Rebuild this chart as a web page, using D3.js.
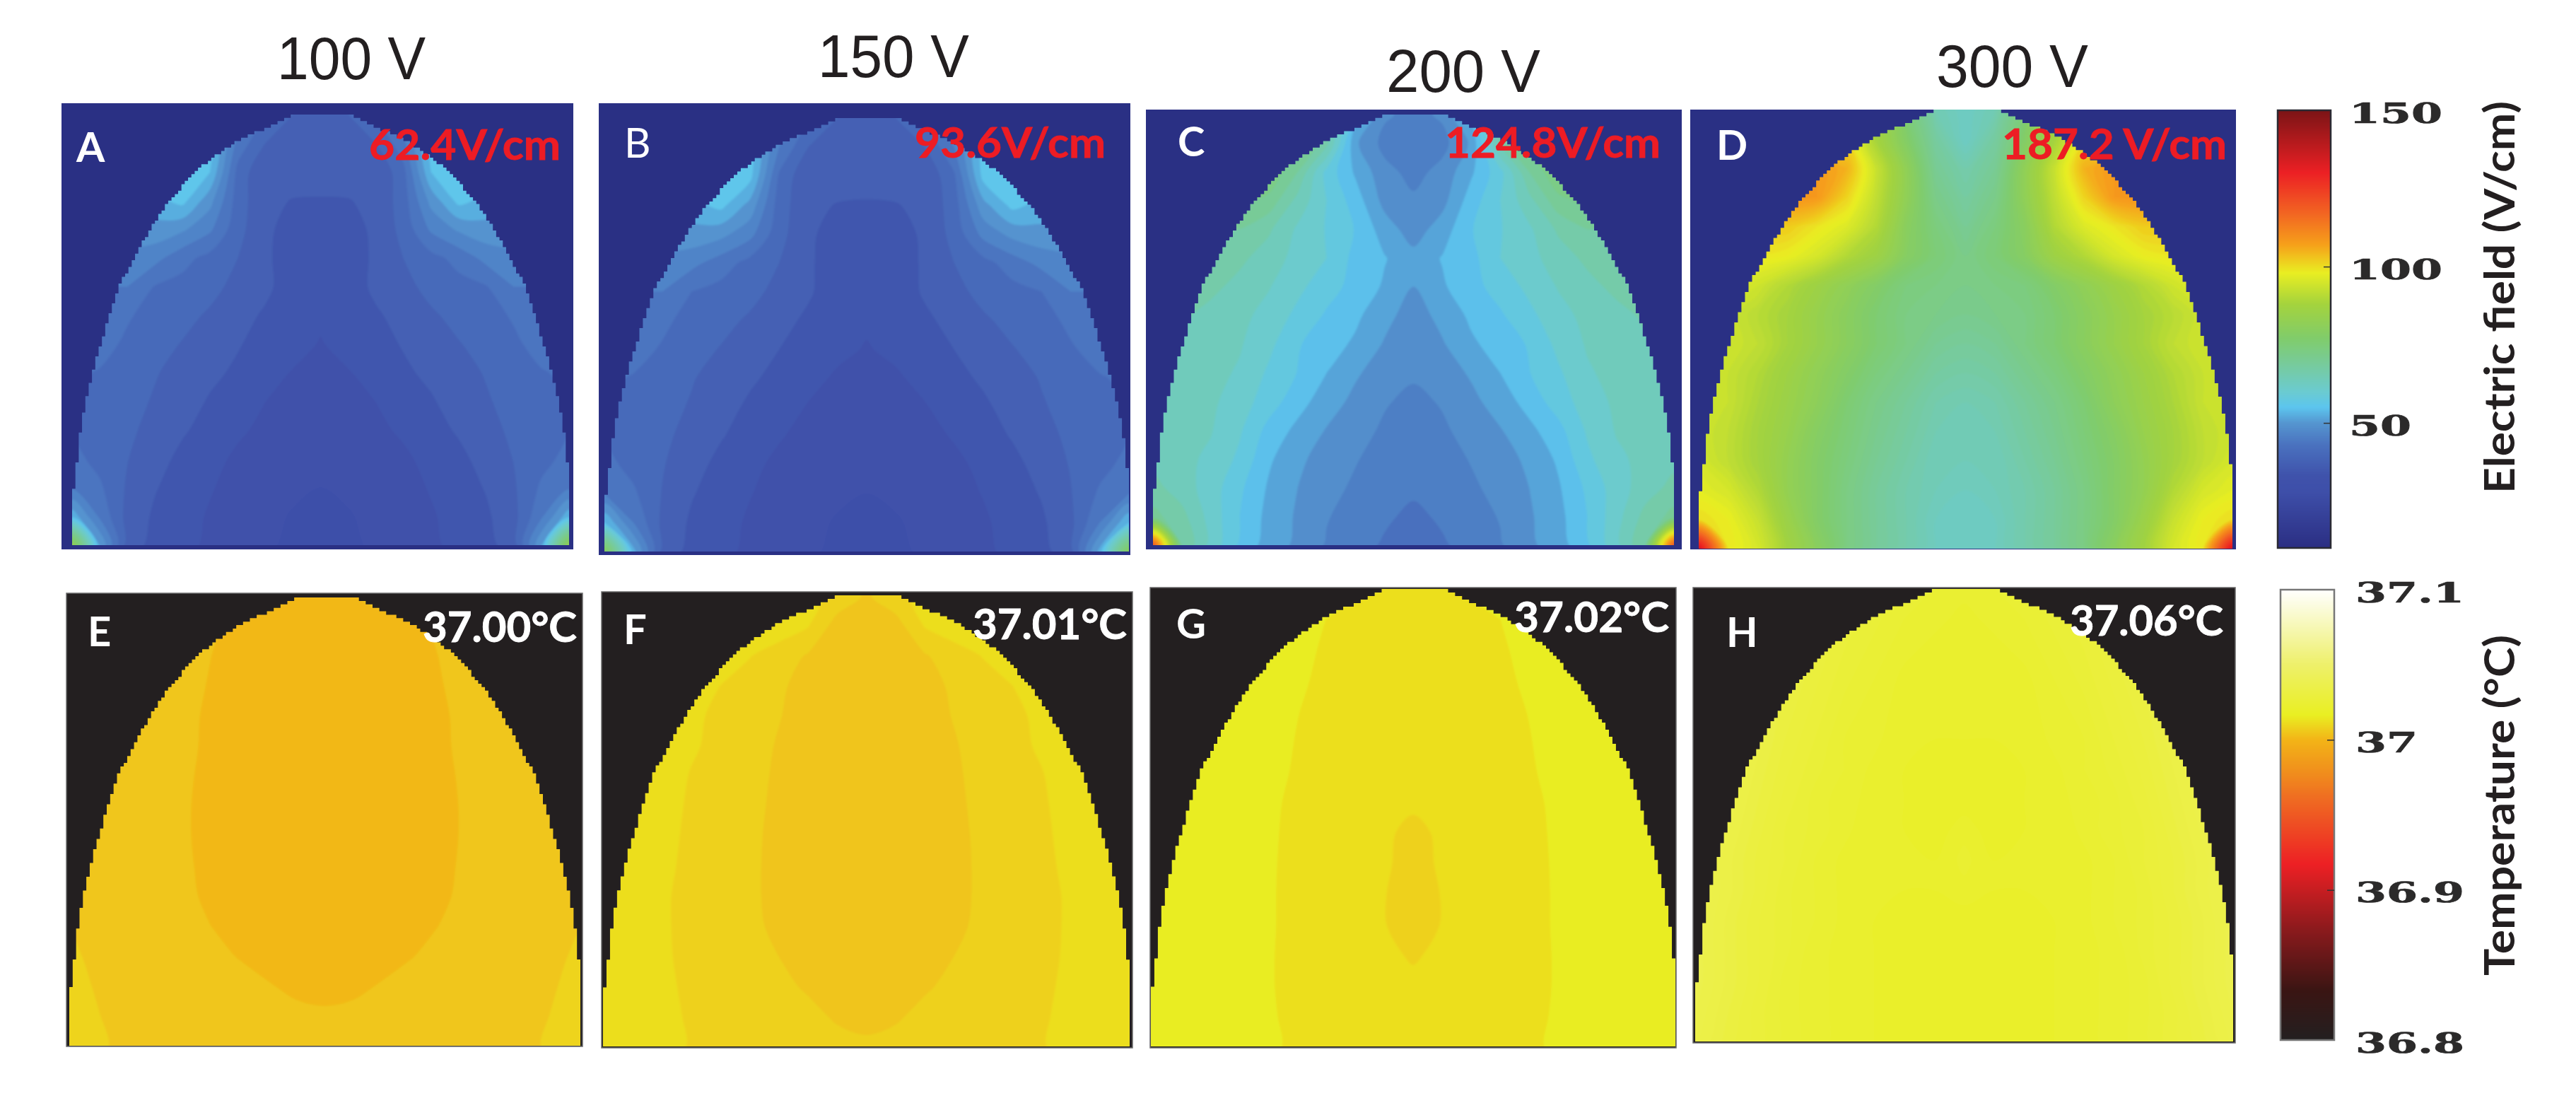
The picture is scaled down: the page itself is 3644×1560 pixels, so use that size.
<!DOCTYPE html>
<html>
<head>
<meta charset="utf-8">
<style>
  html, body { margin: 0; background: #fff; }
  svg { display: block; }
</style>
</head>
<body>
<svg></svg>
<script src="https://cdn.jsdelivr.net/npm/d3@7"></script>
<script>
let width = 3644, height = 1560;

// Values, one row per height from dome top to base.
// Each row goes from the left edge to the mid line, the right half mirrors it.
// Electric field in V/cm.
const fieldA = [
  [58,58,58,58,58,54,50,44,41,40],
  [58,58,58,58,58,57,46,41,40,40],
  [58,58,58,58,58,56,43,38.2,39,39.2],
  [54,54,54,55,57,51,42.5,38.5,37.9,37.8],
  [52,52,52,52,50.5,47.5,42,38.5,37,37],
  [49,49,49,48,45,43,41,38.5,36.5,36.5],
  [47,47,47,43.8,43,42,40,38.6,36.5,36],
  [46,45.5,44.3,43,42,40.5,39,37.6,36,35.5],
  [45.5,45,43.5,42.2,40.8,40,38.2,37,36,34.8],
  [44.5,43.8,42.5,41.2,40,38.6,37.5,36,34.8,34.2],
  [44,43,42,40.7,39.2,37.7,36.5,35,34.2,33.8],
  [44,42.6,41.6,40,38.3,37,35.4,34.4,33.8,33.4],
  [45,43,41.1,39,37.3,35.8,34.5,33.8,33.3,32.8],
  [46.5,44.5,40.6,38.2,36.6,35.2,34,33.2,32.5,32],
  [55,46.5,40,37.5,36,34.7,33.6,32.7,31.8,31.5],
  [85,53,39.5,37,35.7,34.5,33.4,32.4,31.5,31.3]
];
const fieldB = [
  [58,58,58,58,58,54,50,44,41,40],
  [58,58,58,58,58,57,47,41,40,39.5],
  [58,58,58,58,58,57,43.5,38.4,39,39.2],
  [55,55,55,55,57,52,42.5,38.5,37.9,37.7],
  [52,52,52,52,51,48,42,38.5,36.8,36.6],
  [49,49,49,48,45.5,43,41,38.5,36.2,36.2],
  [47,47,47,44,43,42,40,38.4,36.2,35.8],
  [46,45.5,44.6,43,42,40.5,39,37.4,35.8,35.4],
  [45.5,45,43.7,42.2,40.8,39.8,38,36.8,35.6,34.8],
  [44.5,43.8,42.5,41.2,39.8,38.4,37.2,35.8,34.6,34.2],
  [44,43,42,40.7,39,37.5,36.2,34.8,34,33.7],
  [44,42.6,41.6,40,38.2,36.8,35.2,34.2,33.6,33.3],
  [45,43,41.2,39,37.2,35.6,34.4,33.6,33.2,32.8],
  [47,44.5,40.8,38.2,36.6,35.1,34,33.1,32.4,32],
  [56,47,40.2,37.5,36,34.6,33.5,32.6,31.8,31.5],
  [82,54,39.8,37,35.7,34.4,33.3,32.4,31.5,31.3]
];
const fieldC = [
  [72,72,72,72,72,72,64,54,47.5,46],
  [72,72,72,72,72,72,66,50.5,46,45],
  [74,74,74,74,74,68,58,52.5,48,46],
  [72,72,72,72,70,64,59,54.5,49,47.5],
  [68,68,68,68,65.5,61.5,58.8,55.8,51.5,48.5],
  [66,66,66,65.7,63.5,61,59,55,53.2,51],
  [65.5,65.5,65.8,64,62.2,59.8,57.2,55,52.6,50],
  [65.5,65.5,64,62.8,61,58.2,55.6,53.6,51,48.5],
  [65,64.5,63.3,62.3,59.8,56.3,54.3,52.5,49.7,48],
  [65,64,63,61.6,58.5,55.9,53,50.4,48.5,47.5],
  [65,63.5,62.6,60.4,57.5,54.2,51.4,49.2,47.3,46.2],
  [65,63,62.2,59.4,55,52.2,49.8,48.2,46.5,45.5],
  [64,62.8,61.4,58.3,53.5,50.6,48.8,47.2,45.8,45],
  [66,63.5,60.5,56.6,52.6,50,48,46.5,45,44.6],
  [69,66,60.8,56,52,49.6,47.2,45.8,44.5,43.3],
  [120,68,61,55.5,51.5,49.4,46.7,45.2,43.6,43]
];
const fieldD = [
  [98,98,98,98,98,98,88,75,65,62],
  [100,100,100,100,100,100,88,78,68,62],
  [108,108,108,108,108,105,93,82,70,66],
  [109,109,109,109,108,101,92,82,72,68],
  [102,102,102,102,99,96,90,80,74,70],
  [99,99,99,98,95,90,86,79,75,72],
  [97,97,94,90,86,82,78,74,73,72],
  [95,94,91,88,84,80,76,73,72,71],
  [95,94,92,88,84,80,76,73,70,69],
  [94,93,90,86,82,78,74,71,68,67],
  [94,93,89,85,81,76,72,69,66,65],
  [94,92,88,84,79,75,71,68,65,64],
  [95,92,88,83,78,74,70,67,64,64],
  [97,95,90,83,78,73,69,66,64,63],
  [100,98,93,85,78,73,69,66,63,62],
  [135,99,95,87,80,73,69,66,63,62]
];

// Temperature, in thousandths of a degree above 37 C.
const tempE = [
  [5,5,5,5,5,5,5,4.5,2.5,2],
  [5,5,5,5,5,4,1.5,1,1,1],
  [5,5,5,5,5,3,1,1,1,1],
  [5,5,5,5,5,2.5,1,1,1,1],
  [5,5,5,5,4.5,2,1,1,1,1],
  [5,5,5,5,4.2,2,1,1,1,1],
  [5,5,5,5,3.8,1.8,1,1,1,1],
  [5,5,5,5,3.6,1.6,1,1,1,1],
  [5,5,5,5,3.6,1.6,1,1,1,1],
  [5,5,5,5,3.8,1.8,1,1,1,1],
  [6,5,5,5,4.2,2,1,1,1,1],
  [6.8,5.4,5,5,5,3,1,1,1,1],
  [7.8,6,5,5,5,4.5,2.7,1,1,1],
  [8.5,6.6,5,5,5,5,5,3.4,1.8,1.4],
  [9,7.2,5.2,5,5,5,5,5,4.4,3.8],
  [9,7.8,5.8,5,5,5,5,5,5,5]
];
const tempF = [
  [12.5,12.5,12,12,12,12,12,11,9,6],
  [12.5,12.5,12,12,12,12,12,10.3,5,5],
  [12.5,12.5,12,12,12,10.2,8.4,6.2,5,5],
  [12.5,12.5,12,12,10,8.5,7.2,5,5,5],
  [12.5,12.5,12,11,9,8.5,6.7,5,5,5],
  [12.5,12.5,12,10.5,9,8,6.2,5,5,5],
  [12.5,12.5,12,9.8,8.8,8,5.8,5,5,5],
  [12.5,12.5,11.5,9.5,8.7,7.8,5.5,5,5,5],
  [12.5,12.5,11,9.4,8.5,7.5,5.3,5,5,5],
  [12.5,12.5,10.8,9.2,8.5,7.4,5.2,5,5,5],
  [12.5,12.5,10.5,9,8.5,7.4,5.2,5,5,5],
  [12.5,12.5,10.5,9,8.5,7.6,5.5,5,5,5],
  [12.5,12.5,10.5,9.2,8.6,8,6.5,5,5,5],
  [12.5,12.5,10.8,9.3,8.8,8.2,7.5,6,5,5],
  [12.5,12.5,11.2,9.5,9,8.5,8,7.6,6,5],
  [12.5,12.5,11.5,9.7,9.2,8.8,8.5,8,7.8,7.4]
];
const tempG = [
  [16,16,16,16,16,16,16,15,13,12],
  [16,16,16,16,16,16,14,12,12,12],
  [16,16,16,16,16,15.4,13.4,12,12,12],
  [16,16,16,16,16,14.8,13,12,12,12],
  [16,16,16,16,16,14.2,12.5,12,12,12],
  [16,16,16,16,16,13.8,12,12,12,12],
  [16,16,16,16,15.5,13.5,12,12,12,12],
  [16,16,16,16,15,13,12,12,12,11],
  [16,16,16,16,14.8,12.8,12,12,11,8.5],
  [16,16,16,16,14.7,12.6,12,12,10.8,8],
  [16,16,16,16,14.6,12.6,12,12,10.2,8],
  [16,16,16,16,14.6,12.6,12,12,10.2,8],
  [16,16,16,16,14.5,12.5,12,12,11,9.5],
  [16,16,16,16,14.5,12.5,12,12,12,11],
  [16,16,16,16,14.7,12.7,12,12,12,12],
  [16,16,16,16,15,13,12,12,12,12]
];
const tempH = [
  [30,30,30,30,30,30,27,25,24,23],
  [30,30,30,30,30,28,26,24,23,22],
  [31,31,31,31,30,27,25,23,22,22],
  [33,33,33,32,29,26,24,22,21,21],
  [34,34,34,31,28,25,23,22,21,21],
  [35,35,34,30,27,24,23,21,21,21],
  [36,36,33,29,26,24,22,21,20,20],
  [37,36,32,28,25,23,22,21,20,20],
  [37,35,31,27,25,23,21,21,20,22],
  [37,34,30,27,24,22,21,21,21,23],
  [37,34,30,26,24,22,21,21,21,22],
  [37,33,29,26,24,22,21,20,20,20],
  [37,33,29,26,23,22,21,20,20,20],
  [37,33,29,25,23,22,21,20,20,20],
  [36,32,28,25,23,22,21,20,20,20],
  [35,31,28,25,23,22,21,20,20,20]
];

// Outline of the dome: width from the mid line against drop from the top, both 0 to 1.
const domeWidth = [0, 0.12, 0.23, 0.357, 0.51, 0.644, 0.738, 0.816, 0.865, 0.915, 0.951, 0.972, 0.99, 1];
const domeDrop = [0, 0, 0.032, 0.067, 0.13, 0.222, 0.313, 0.398, 0.482, 0.581, 0.665, 0.736, 0.82, 0.87];

const voltageLabels = ["100 V", "150 V", "200 V", "300 V"];
const fieldTicks = [50, 100, 150];
const tempTicks = [36.8, 36.9, 37, 37.1];

// Colour bars, value then colour.
const fieldStops = [10, 28, 33, 43, 50, 55, 60, 68, 77, 88, 98, 107, 117, 130, 150];
const fieldColors = ["#2b2e83", "#3e4fa9", "#3f52ab", "#4a72bf", "#5596d0", "#5cc5ee", "#6bcbd0", "#76cba0", "#80cc6b", "#a4d33d", "#e9ee22", "#f6a01a", "#f26522", "#ec2024", "#7b1416"];
const tempStops = [36.8, 36.833, 36.875, 36.917, 36.96, 36.976, 37, 37.0165, 37.05, 37.1];
const tempColors = ["#231f20", "#3a1513", "#8e1a1d", "#ed2024", "#ef6a22", "#f08a1d", "#f3b417", "#e9ef22", "#eef06a", "#ffffff"];

let fieldColor = d3.scaleLinear().domain(fieldStops).range(fieldColors);
let tempColor = d3.scaleLinear().domain(tempStops).range(tempColors);

let svg = d3.select("svg")
  .attr("width", width)
  .attr("height", height)
  .attr("viewBox", "0 0 " + width + " " + height);

svg.append("defs").append("filter")
  .attr("id", "soft")
  .append("feGaussianBlur")
  .attr("stdDeviation", 1.6);

const sans = "Lato, 'Open Sans', sans-serif";

let panels = [
  { id: "A", grid: fieldA, kind: "field", step: 3, start: 11, shift: -2, frame: [87, 146, 811, 777], dome: [102, 162, 805, 771], bg: "#2a3084" },
  { id: "B", grid: fieldB, kind: "field", step: 3, start: 11, shift: -2, frame: [847, 146, 1599, 785], dome: [855, 167, 1597, 780], bg: "#2a3084" },
  { id: "C", grid: fieldC, kind: "field", step: 3, start: 11, shift: 0, frame: [1621, 155, 2379, 777], dome: [1631, 162, 2368, 771], bg: "#2a3084" },
  { id: "D", grid: fieldD, kind: "field", step: 1, start: 12, shift: 0, frame: [2391, 155, 3163, 777], dome: [2403, 155, 3158, 776], bg: "#2a3084" },
  { id: "E", grid: tempE, kind: "temp", step: 4, start: -1, shift: 0, frame: [94, 839, 824, 1480], dome: [98, 845, 821, 1479], bg: "#231f20" },
  { id: "F", grid: tempF, kind: "temp", step: 3.5, start: -0.5, shift: 0, frame: [851, 837, 1602, 1482], dome: [853, 842, 1598, 1480], bg: "#231f20" },
  { id: "G", grid: tempG, kind: "temp", step: 4, start: 2, shift: 0, frame: [1627, 831, 2371, 1482], dome: [1628, 833, 2370, 1480], bg: "#231f20" },
  { id: "H", grid: tempH, kind: "temp", step: 1.5, start: 15, shift: 0, frame: [2395, 831, 3162, 1475], dome: [2398, 833, 3159, 1473], bg: "#231f20" }
];

// Stepped outline, the source picture is a pixel grid of about 150 columns.
let dropOf = d3.scaleLinear().domain(domeWidth).range(domeDrop);
let domeCols = 150, domeRows = 130;

function domePath(dome) {
  let x = d3.scaleLinear().domain([0, domeCols]).range([dome[0], dome[2]]);
  let y = d3.scaleLinear().domain([0, 1]).range([dome[1], dome[3]]);
  let pts = d3.range(domeCols + 1).map(i => {
    let w = Math.abs(2 * i / domeCols - 1);
    return [x(i), y(Math.round(dropOf(w) * domeRows) / domeRows)];
  });
  return d3.line().curve(d3.curveStepAfter)(pts)
    + "L" + dome[2] + "," + dome[3] + "L" + dome[0] + "," + dome[3] + "Z";
}

panels.forEach(p => {
  let g = svg.append("g").attr("id", "panel" + p.id);
  let [x0, y0, x1, y1] = p.frame;

  g.append("rect")
    .attr("x", x0).attr("y", y0)
    .attr("width", x1 - x0).attr("height", y1 - y0)
    .attr("fill", p.bg)
    .attr("stroke", p.kind == "temp" ? "#6a6a6a" : "none")
    .attr("stroke-width", 1.5);

  g.append("clipPath").attr("id", "clip" + p.id)
    .append("path").attr("d", domePath(p.dome));

  // mirror the half rows into full rows
  let full = p.grid.map(r => r.concat(r.slice(0, -1).reverse()));
  let nx = full[0].length, ny = full.length;
  let values = full.flat();

  let xs = d3.scaleLinear().domain([0.5, nx - 0.5]).range([p.dome[0], p.dome[2]]);
  let ys = d3.scaleLinear().domain([0.5, ny - 0.5]).range([p.dome[1], p.dome[3]]);
  // rounded contour rings so the coarse grid does not show as corners
  let ringLine = d3.line().curve(d3.curveCatmullRomClosed.alpha(0.5));
  let bandPath = d => d.coordinates
    .map(poly => poly.map(ring => ringLine(ring.slice(0, -1).map(c => [xs(c[0]), ys(c[1])]))).join(""))
    .join("");

  let colorOf = p.kind == "field" ? fieldColor : (v => tempColor(37 + v / 1000));
  let levels = d3.range(p.start, d3.max(values) + p.step, p.step);
  let bands = d3.contours().size([nx, ny]).thresholds(levels)(values);

  let field = g.append("g").attr("clip-path", "url(#clip" + p.id + ")")
    .append("g").attr("filter", "url(#soft)");

  field.append("rect")
    .attr("x", p.dome[0] - 20).attr("y", p.dome[1] - 20)
    .attr("width", p.dome[2] - p.dome[0] + 40).attr("height", p.dome[3] - p.dome[1] + 40)
    .attr("fill", colorOf(p.start - p.step / 2 + p.shift));

  field.selectAll("path")
    .data(bands)
    .enter()
    .append("path")
    .attr("d", bandPath)
    .attr("fill", d => colorOf(d.value + p.step / 2 + p.shift));
});

// Voltage headings
let titleBoxes = [[392, 602, 112], [1157, 1371, 109], [1961, 2179, 130], [2739, 2954, 123]];
svg.append("g").selectAll("text")
  .data(voltageLabels)
  .enter()
  .append("text")
  .attr("x", (d, i) => titleBoxes[i][0])
  .attr("y", (d, i) => titleBoxes[i][2])
  .attr("textLength", (d, i) => titleBoxes[i][1] - titleBoxes[i][0])
  .attr("lengthAdjust", "spacingAndGlyphs")
  .attr("font-family", "'Liberation Sans', Arial, sans-serif")
  .attr("font-size", 86)
  .attr("fill", "#231f20")
  .text(d => d);

// Panel letters
let letters = [
  ["A", 108, 229, 700], ["B", 883, 223, 400], ["C", 1666, 221, 700], ["D", 2428, 226, 700],
  ["E", 124, 914, 700], ["F", 882, 911, 700], ["G", 1664, 903, 700], ["H", 2442, 915, 700]
];
svg.append("g").selectAll("text")
  .data(letters)
  .enter()
  .append("text")
  .attr("x", d => d[1])
  .attr("y", d => d[2])
  .attr("font-family", sans)
  .attr("font-weight", d => d[3])
  .attr("font-size", 58)
  .attr("fill", "#fff")
  .text(d => d[0]);

// Peak value labels
let peakLabels = [
  ["62.4V/cm", 522, 793, 226, "#ed1c24"], ["93.6V/cm", 1294, 1564, 223, "#ed1c24"],
  ["124.8V/cm", 2044, 2349, 223, "#ed1c24"], ["187.2 V/cm", 2832, 3150, 225, "#ed1c24"],
  ["37.00°C", 598, 816, 908, "#fff"], ["37.01°C", 1376, 1594, 904, "#fff"],
  ["37.02°C", 2142, 2361, 894, "#fff"], ["37.06°C", 2928, 3145, 899, "#fff"]
];
svg.append("g").selectAll("text")
  .data(peakLabels)
  .enter()
  .append("text")
  .attr("x", d => d[1])
  .attr("y", d => d[3])
  .attr("textLength", d => d[2] - d[1])
  .attr("lengthAdjust", "spacingAndGlyphs")
  .attr("font-family", sans)
  .attr("font-weight", 700)
  .attr("font-size", 60)
  .attr("fill", d => d[4])
  .attr("stroke", d => d[4])
  .attr("stroke-width", 0.8)
  .text(d => d[0]);

// Colour bars
function colorBar(opts) {
  let g = svg.append("g");
  let y = d3.scaleLinear().domain(opts.domain).range(opts.range);

  g.selectAll("rect.strip")
    .data(d3.range(opts.range[1], opts.range[0]))
    .enter()
    .append("rect")
    .attr("class", "strip")
    .attr("x", opts.x)
    .attr("y", d => d)
    .attr("width", opts.w)
    .attr("height", 1.5)
    .attr("fill", d => opts.color(y.invert(d + 0.5)));

  g.append("rect")
    .attr("x", opts.x).attr("y", opts.range[1])
    .attr("width", opts.w).attr("height", opts.range[0] - opts.range[1])
    .attr("fill", "none")
    .attr("stroke", opts.border)
    .attr("stroke-width", 2.5);

  let axis = d3.axisRight(y)
    .tickValues(opts.ticks)
    .tickFormat(d => String(d))
    .tickSize(0);

  let ag = g.append("g")
    .attr("transform", "translate(" + (opts.x + opts.w) + ",0)")
    .call(axis);
  ag.select(".domain").remove();

  ag.selectAll(".tick line")
    .attr("x1", -10).attr("x2", 0)
    .attr("stroke", "#333")
    .attr("stroke-width", 1.5)
    .attr("display", d => (d == opts.domain[0] || d == opts.domain[1]) ? "none" : null);

  // the tick font in the source is a stretched bold slab
  ag.selectAll(".tick text")
    .attr("x", 0)
    .attr("dy", null)
    .attr("text-anchor", "start")
    .attr("font-family", "'DejaVu Serif', serif")
    .attr("font-weight", 700)
    .attr("font-size", 40)
    .attr("fill", "#2b2a2a")
    .attr("stroke", "#2b2a2a")
    .attr("stroke-width", 0.7)
    .attr("transform", d => "translate(" + opts.tickGap + "," + opts.tickDy + ") scale(1.58,1)");

  g.append("text")
    .attr("transform", "translate(" + opts.titleX + "," + opts.titleY + ") rotate(-90)")
    .attr("textLength", opts.titleLen)
    .attr("lengthAdjust", "spacingAndGlyphs")
    .attr("font-family", sans)
    .attr("font-weight", 700)
    .attr("font-size", 60)
    .attr("fill", "#231f20")
    .text(opts.title);
}

colorBar({
  domain: [10, 150], range: [775, 156], x: 3222, w: 75,
  ticks: fieldTicks, color: fieldColor, border: "#2a2a33",
  tickGap: 26, tickDy: 17,
  title: "Electric field (V/cm)", titleX: 3557, titleY: 698, titleLen: 555
});

colorBar({
  domain: [36.8, 37.1], range: [1471, 834], x: 3226, w: 76,
  ticks: tempTicks, color: tempColor, border: "#777",
  tickGap: 30, tickDy: 17,
  title: "Temperature (°C)", titleX: 3557, titleY: 1380, titleLen: 482
});
</script>
</body>
</html>
